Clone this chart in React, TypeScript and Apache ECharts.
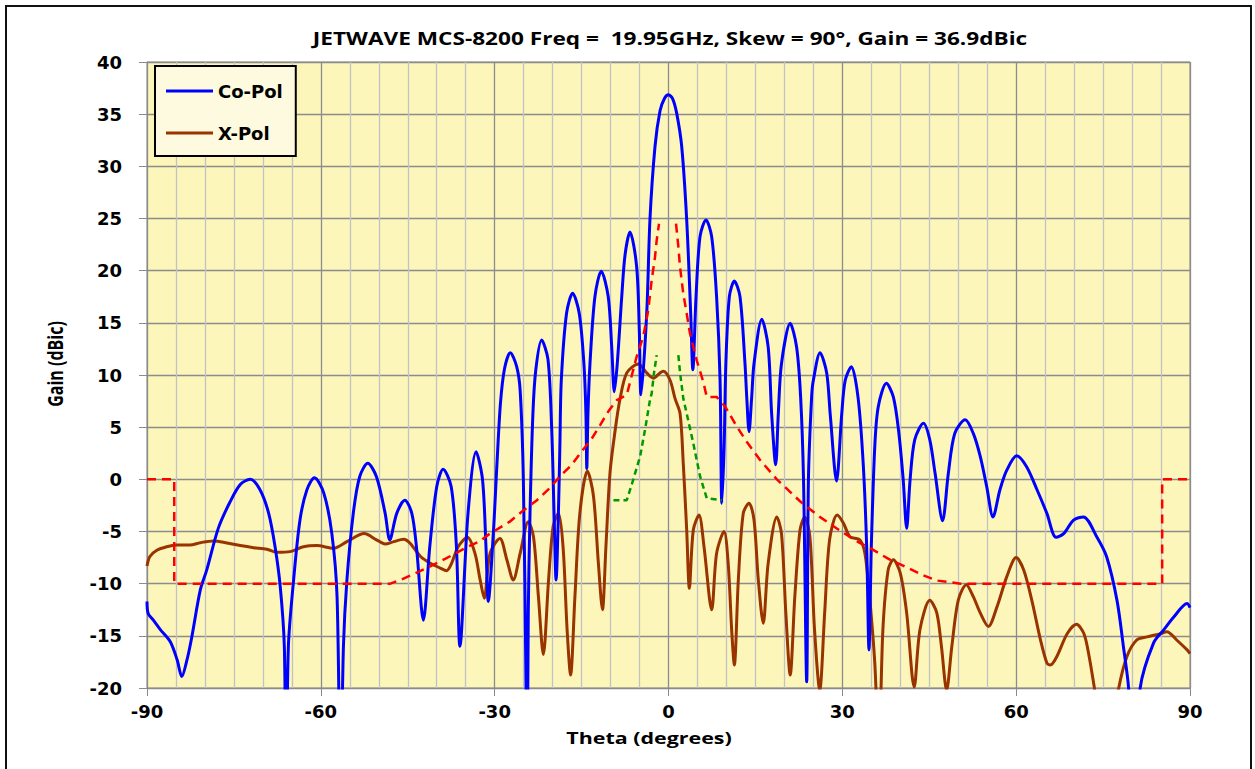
import React, { useEffect, useRef } from "react";
import * as echarts from "echarts";

const titleText = "JETWAVE MCS-8200 Freq =  19.95GHz, Skew = 90°, Gain = 36.9dBic";
const xTitle = "Theta (degrees)";
const yTitle = "Gain (dBic)";
const seriesNames = ["Co-Pol", "X-Pol"];

const coPol: [number, number][] = [
  [-90, -11.7], [-89.8, -12.85], [-88.9, -13.5], [-87.7, -14.4], [-86.0, -15.55], [-84.8, -17.3], [-84.0, -18.9],
  [-83.1, -17.3], [-82.3, -15.2], [-80.8, -10.6], [-79.7, -8.7], [-77.7, -4.7], [-75.7, -2.2], [-73.9, -0.5],
  [-72.2, 0.0], [-70.5, -1.0], [-69.0, -3.26], [-67.9, -6.46], [-67.0, -10.3], [-66.3, -16.0], [-66.0, -30],
  [-65.6, -16], [-64.7, -9.65], [-63.6, -3.9], [-62.4, -1.0], [-61.1, 0.15], [-59.5, -1.3], [-58.1, -5.2],
  [-57.2, -11.25], [-56.6, -30], [-56.1, -16.0], [-55.5, -9.65], [-54.4, -3.26], [-53.3, 0.25], [-51.9, 1.53],
  [-50.4, 0.25], [-48.9, -3.26], [-48.1, -5.8], [-46.9, -3.26], [-45.5, -2.0], [-44.3, -3.26], [-43.5, -6.46],
  [-42.3, -13.5], [-41.2, -6.46], [-40.0, -0.7], [-38.9, 0.96], [-37.5, -0.7], [-36.6, -6.46], [-36.0, -16.0],
  [-34.6, -3.26], [-33.2, 2.65], [-32.1, 0], [-31.5, -6.46], [-31.1, -11.7], [-30.2, -4.86], [-29.6, 1.53],
  [-29.0, 7.3], [-28.3, 10.6], [-27.3, 12.14], [-26.2, 10.8], [-25.6, 8.5], [-25.05, 0], [-24.6, -19.2],
  [-24.4, -30], [-24.2, -12.8], [-23.9, -3.26], [-23.4, 6.3], [-22.9, 10.5], [-21.9, 13.35], [-20.8, 11.5],
  [-20.15, 4.7], [-19.75, -3.26], [-19.4, -9.65], [-19.0, -3.26], [-18.75, 3.1], [-18.5, 9.5], [-17.6, 15.9],
  [-16.55, 17.83], [-15.4, 15.9], [-14.6, 11.1], [-14.25, 6.3], [-14.1, 1.05], [-13.9, 6.3], [-13.55, 11.1],
  [-12.7, 17.5], [-11.6, 19.95], [-10.4, 17.5], [-9.8, 12.7], [-9.35, 8.4], [-8.84, 11.1], [-8.07, 17.5],
  [-7.5, 21.5], [-6.65, 23.7], [-5.5, 20.4], [-5.04, 14.3], [-4.75, 8.1], [-3.76, 15.9], [-3.2, 24.9],
  [-2.33, 31.9], [-1.47, 35.3], [-0.7, 36.5], [0, 36.85], [0.7, 36.5], [1.41, 35.1], [2.28, 31.9], [3.14, 24.86],
  [3.83, 15.9], [4.2, 10.5],
  [4.75, 17.5], [5.44, 23.26], [6.47, 24.86], [7.45, 23.26], [8.3, 17.5], [8.9, 9.5], [9.2, -2.3], [9.6, 3.13],
  [9.9, 11.1], [10.5, 17.5], [11.36, 19.0], [12.34, 17.5], [13.2, 11.1], [13.5, 7.9], [13.9, 4.57], [14.36, 7.9],
  [14.76, 11.1], [16.1, 15.34], [17.2, 12.7], [17.8, 6.3], [18.5, 1.4], [18.95, 6.3], [19.5, 11.1], [21.0, 14.95],
  [22.1, 12.7], [22.8, 7.9], [23.3, 0], [23.85, -19.4], [24.15, 0], [24.7, 7.9], [25.0, 9.5], [26.15, 12.14],
  [27.3, 10.2], [27.9, 6.3], [29.0, -0.16], [29.9, 6.3], [30.5, 9.5], [31.55, 10.8], [32.7, 7.9], [33.6, 1.53],
  [34.2, -6.46], [34.6, -16.35], [35.0, -6.46], [35.6, 3.13], [36.2, 6.96], [37.6, 9.2], [38.8, 7.9], [39.7, 4.7],
  [40.5, 0], [41.1, -4.7], [41.7, 0], [42.5, 3.8], [44.0, 5.37], [45.1, 3.77], [46.0, 0.6], [47.3, -3.96],
  [48.3, 0.6], [49.4, 4.4], [51.2, 5.7], [52.6, 4.4], [53.8, 2.2], [54.9, -0.65], [56.0, -3.6], [57.2, -1.0],
  [58.4, 0.9], [60.1, 2.25], [61.8, 1.2], [63.6, -1.0], [65.3, -3.26], [66.9, -5.56], [68.2, -5.2], [69.9, -3.9],
  [71.6, -3.6], [73.9, -5.5], [75.6, -7.4], [77.4, -11.6], [78.5, -16.0], [79.4, -20], [80.3, -30], [81.4, -20],
  [83.7, -15.7], [85.5, -14.4], [87.2, -13.2], [89.5, -11.9], [90, -12.3],
];

const xPol: [number, number][] = [
  [-90, -8.3], [-89.5, -7.4], [-88.3, -6.8], [-86.6, -6.46], [-84.9, -6.3], [-82.6, -6.3], [-80.8, -6.07],
  [-78.5, -5.9], [-76.2, -6.1], [-73.9, -6.35], [-71.6, -6.55], [-69.3, -6.7], [-67.6, -7.0], [-65.3, -6.93],
  [-63.0, -6.46], [-60.7, -6.35], [-57.8, -6.6], [-55.5, -5.97], [-52.5, -5.2], [-50.4, -5.8], [-48.9, -6.2],
  [-47.4, -5.97], [-45.7, -5.75], [-44.6, -6.13], [-42.8, -7.4], [-41.1, -8.05], [-39.4, -8.5], [-38.3, -8.75],
  [-37.4, -8.0], [-36.3, -6.46], [-34.7, -5.56], [-33.4, -7.1], [-32.5, -9.65], [-31.8, -11.4], [-30.8, -7.1],
  [-29.1, -5.66], [-27.9, -7.7], [-26.8, -9.65], [-25.6, -7.1], [-24.2, -4.06], [-23.3, -5.5], [-22.45, -11.25],
  [-21.6, -16.8], [-20.7, -9.65], [-19.9, -4.5], [-19.0, -3.26], [-18.2, -6.46], [-17.5, -14.4], [-16.9, -18.75],
  [-16.15, -11.25], [-15.3, -3.26], [-14.0, 0.8], [-12.95, -1.6], [-12.1, -8.05], [-11.4, -12.5], [-10.8, -6.46],
  [-10.1, 0.6], [-9.2, 4.73], [-8.4, 7.6], [-7.2, 10.2], [-5.2, 11.05], [-3.76, 10.2], [-2.6, 9.7], [-1.47, 10.2],
  [-0.9, 10.35], [0.26, 9.52], [1.12, 7.76], [2.0, 6.3], [2.55, 1.5], [3.14, -4.86], [3.6, -10.45], [4.28, -4.86],
  [5.26, -3.42], [6.13, -6.46], [7.45, -12.5], [8.3, -7.1], [9.58, -5.0], [10.3, -8.05], [10.9, -14.4],
  [11.36, -17.8], [12.05, -9.65], [12.9, -3.26], [13.9, -2.3], [14.76, -3.9], [15.5, -9.65], [16.35, -13.8],
  [17.2, -8.05], [18.7, -3.6], [19.5, -5.2], [20.25, -12.8], [21.0, -18.75], [21.8, -11.25], [22.7, -4.86],
  [23.5, -3.6], [24.4, -5.5], [25.2, -14.4], [26.1, -20.2], [26.95, -12.8], [27.8, -5.8], [29.1, -3.42],
  [30.2, -4.2], [31.3, -5.5], [33.0, -5.8], [33.9, -7.1], [34.7, -11.25], [35.6, -17.6], [36.3, -26],
  [37.0, -14.4], [37.9, -8.7], [38.8, -7.7], [40.0, -9.0], [41.1, -12.8], [42.4, -19.9], [43.4, -14.4],
  [45.1, -11.6], [46.3, -12.8], [47.1, -16.0], [48.0, -20.2], [48.9, -16.0], [50.0, -11.6], [51.4, -10.1],
  [52.6, -11.25], [53.8, -12.8], [55.2, -14.1], [56.7, -12.2], [58.4, -9.3], [60.0, -7.5], [61.3, -8.7],
  [62.7, -11.6], [64.2, -15.4], [65.3, -17.6], [65.9, -17.8], [67.0, -17.0], [68.8, -14.8], [70.4, -13.9],
  [71.7, -14.8], [72.6, -17.0], [73.5, -20], [75.5, -27], [77.7, -20], [79.1, -17.0], [80.8, -15.4],
  [82.6, -15.1], [84.9, -14.8], [86.0, -14.6], [87.7, -15.4], [89.5, -16.35], [90, -16.7],
];

const maskLine: ([number, number] | null)[] = [
  [-90, 0], [-85.3, 0], [-85.3, -10], [-48, -10], [-46.1, -9.6], [-44.1, -9.1], [-42.1, -8.6], [-38.3, -7.55],
  [-34.6, -6.46], [-32.8, -6.0], [-30.8, -5.2], [-27.4, -4.06], [-25.1, -3.0], [-22.7, -2.0], [-20.5, -0.85],
  [-18.7, 0.3], [-16.7, 1.4], [-15.0, 2.65], [-13.25, 3.9], [-11.8, 5.2], [-10.4, 6.5], [-8.9, 7.6], [-7.2, 8.1],
  [-5.5, 11.75], [-4.35, 13.7], [-3.5, 16.2], [-2.9, 19.1], [-2.33, 21.3], [-2.04, 22.9], [-1.64, 24.5],
  null,
  [1.3, 24.5], [1.7, 22.3], [1.98, 20.4], [2.55, 17.8], [3.14, 15.9], [3.7, 14.0], [4.87, 11.4], [6.0, 9.36],
  [6.6, 7.9], [8.3, 7.9], [9.75, 7.0], [11.8, 5.05], [13.5, 3.6], [15.8, 1.85], [18.7, 0], [22.7, -2.1],
  [26.1, -3.6], [30.1, -5.1], [33.0, -6.1], [34.8, -6.6], [38.2, -7.7], [40.2, -8.2], [44.0, -9.2], [46.3, -9.7],
  [50.4, -10], [85.2, -10], [85.2, 0], [90, 0],
];

const greenLine: ([number, number] | null)[] = [
  [-9.5, -2], [-7.2, -2], [-6.07, 0], [-4.9, 2.2], [-4.06, 4.73], [-3.2, 7.6], [-2.9, 8.24], [-2.5, 10.2],
  [-2.04, 11.9],
  null,
  [1.7, 11.9], [2.0, 10.2], [2.55, 7.76], [3.14, 6.3], [4.28, 3.45], [5.44, 0.3], [6.6, -1.8], [9.2, -2],
];

const toData = (arr: ([number, number] | null)[]) => arr.map((p) => (p === null ? [null, null] : p));

export default function App() {
  const ref = useRef<HTMLDivElement>(null);
  useEffect(() => {
    if (!ref.current) return;
    const chart = echarts.init(ref.current, undefined, { renderer: "svg" });
    const tickFont = { fontFamily: "DejaVu Sans", fontWeight: "bold" as const, fontSize: 18, color: "#000" };
    chart.setOption({
      animation: false,
      backgroundColor: "#ffffff",
      legend: {
        data: seriesNames,
        orient: "vertical",
        left: 155,
        top: 66,
        icon: "rect",
        itemWidth: 47,
        itemHeight: 3,
        itemGap: 24,
        padding: [16, 13, 14, 11],
        backgroundColor: "#FEFADF",
        borderColor: "#000",
        borderWidth: 2,
        borderRadius: 0,
        textStyle: { fontFamily: "DejaVu Sans", fontWeight: "bold", fontSize: 18, color: "#000" },
      },
      grid: {
        left: 147,
        top: 62,
        right: 65,
        bottom: 81,
        show: true,
        backgroundColor: "#FDF6BB",
        borderColor: "#8a8a8a",
        borderWidth: 1,
      },
      xAxis: {
        type: "value",
        min: -90,
        max: 90,
        interval: 30,
        axisLine: { show: true, onZero: false, lineStyle: { color: "#8a8a8a", width: 1 } },
        axisTick: { show: true, length: 8, lineStyle: { color: "#8a8a8a" } },
        axisLabel: { ...tickFont, margin: 14 },
        splitLine: { show: true, lineStyle: { color: "#8c8c8c", width: 1.3 } },
        minorTick: { show: false, splitNumber: 6 },
        minorSplitLine: { show: true, lineStyle: { color: "#c2c2c2", width: 1.3 } },
      },
      yAxis: {
        type: "value",
        min: -20,
        max: 40,
        interval: 5,
        axisLine: { show: true, onZero: false, lineStyle: { color: "#8a8a8a", width: 1 } },
        axisTick: { show: true, length: 8, lineStyle: { color: "#8a8a8a" } },
        axisLabel: { ...tickFont, margin: 25 },
        splitLine: { show: true, lineStyle: { color: "#8c8c8c", width: 1.3 } },
      },
      graphic: [
        {
          type: "rect",
          silent: true,
          shape: { x: 6, y: 6, width: 1245, height: 800 },
          style: { fill: "none", stroke: "#111", lineWidth: 2 },
        },
        {
          type: "text",
          x: 670,
          y: 39,
          scaleX: 1.33,
          style: {
            text: titleText,
            fill: "#000",
            font: 'bold 17px "Open Sans"',
            textAlign: "center",
            textVerticalAlign: "middle",
          },
        },
        {
          type: "text",
          x: 55,
          y: 364,
          rotation: Math.PI / 2,
          scaleY: 1.3,
          style: {
            text: yTitle,
            fill: "#000",
            font: 'bold 16px "Open Sans"',
            textAlign: "center",
            textVerticalAlign: "middle",
          },
        },
        {
          type: "text",
          x: 649,
          y: 738,
          scaleX: 1.34,
          style: {
            text: xTitle,
            fill: "#000",
            font: 'bold 16px "Open Sans"',
            textAlign: "center",
            textVerticalAlign: "middle",
          },
        },
      ],
      series: [
        {
          name: "X-Pol",
          type: "line",
          data: xPol,
          showSymbol: false,
          symbol: "none",
          smooth: 0.3,
          itemStyle: { color: "#993300" },
          lineStyle: { color: "#993300", width: 3 },
          z: 2,
        },
        {
          name: "Co-Pol",
          type: "line",
          data: coPol,
          showSymbol: false,
          symbol: "none",
          smooth: 0.3,
          itemStyle: { color: "#0000FF" },
          lineStyle: { color: "#0000FF", width: 3 },
          z: 3,
        },
        {
          name: "Mask",
          type: "line",
          data: toData(maskLine),
          showSymbol: false,
          symbol: "none",
          itemStyle: { color: "#FF0000" },
          lineStyle: { color: "#FF0000", width: 2.5, type: [9, 6] },
          z: 4,
        },
        {
          name: "Green",
          type: "line",
          data: toData(greenLine),
          showSymbol: false,
          symbol: "none",
          itemStyle: { color: "#009900" },
          lineStyle: { color: "#009900", width: 2.5, type: [6, 4] },
          z: 4,
        },
      ],
    });
    return () => chart.dispose();
  }, []);
  return (
    <div
      ref={ref}
      style={{ position: "absolute", left: 0, top: 0, width: 1255, height: 769, background: "#fff" }}
    />
  );
}
